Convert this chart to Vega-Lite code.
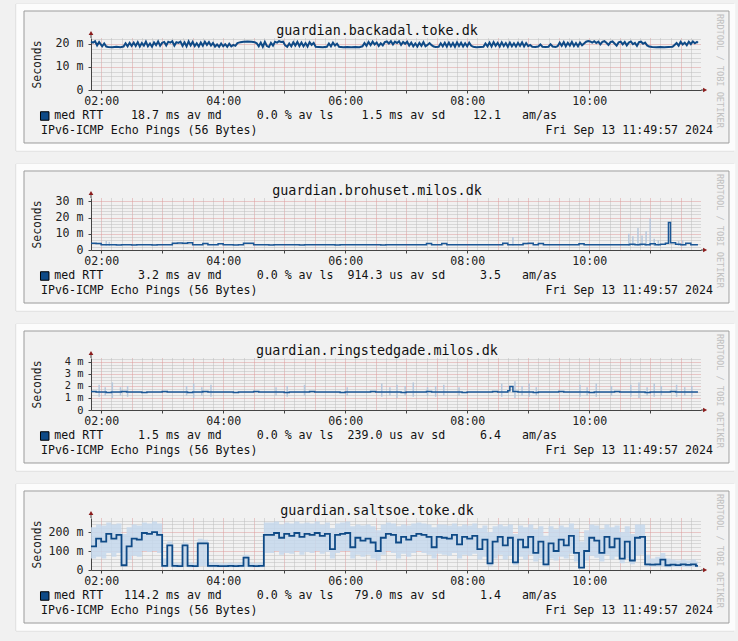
{
 "$schema": "https://vega.github.io/schema/vega-lite/v6.json",
 "background": "#f1f1f1",
 "padding": {"left": 15, "top": 3, "right": 5, "bottom": 11},
 "spacing": 108,
 "bounds": "flush",
 "config": {
  "font": "DejaVu Sans Mono",
  "view": {"stroke": null, "fill": "#f1f1f1"},
  "axis": {"labelFont": "DejaVu Sans Mono", "labelFontSize": 11.6, "labelColor": "#222", "titleFont": "DejaVu Sans Mono", "titleFontSize": 11.4, "titleFontWeight": "normal", "titleColor": "#222", "domainColor": "#444", "tickColor": "#444", "gridDash": [1, 1], "gridOpacity": 1, "labelFlush": false, "labelOverlap": false, "labelBound": false}
 },
 "datasets": {
  "i1": [{"title": "guardian.backadal.toke.dk", "stats": "med\u00a0RTT\u00a0\u00a0\u00a0\u00a018.7\u00a0ms\u00a0av\u00a0md\u00a0\u00a0\u00a0\u00a0\u00a00.0\u00a0%\u00a0av\u00a0ls\u00a0\u00a0\u00a0\u00a01.5\u00a0ms\u00a0av\u00a0sd\u00a0\u00a0\u00a0\u00a012.1\u00a0\u00a0\u00a0am/as", "probe": "IPv6-ICMP Echo Pings (56 Bytes)", "date": "Fri Sep 13 11:49:57 2024", "credit": "RRDTOOL / TOBI OETIKER"}],
  "i2": [{"title": "guardian.brohuset.milos.dk", "stats": "med\u00a0RTT\u00a0\u00a0\u00a0\u00a0\u00a03.2\u00a0ms\u00a0av\u00a0md\u00a0\u00a0\u00a0\u00a0\u00a00.0\u00a0%\u00a0av\u00a0ls\u00a0\u00a0914.3\u00a0us\u00a0av\u00a0sd\u00a0\u00a0\u00a0\u00a0\u00a03.5\u00a0\u00a0\u00a0am/as", "probe": "IPv6-ICMP Echo Pings (56 Bytes)", "date": "Fri Sep 13 11:49:57 2024", "credit": "RRDTOOL / TOBI OETIKER"}],
  "i3": [{"title": "guardian.ringstedgade.milos.dk", "stats": "med\u00a0RTT\u00a0\u00a0\u00a0\u00a0\u00a01.5\u00a0ms\u00a0av\u00a0md\u00a0\u00a0\u00a0\u00a0\u00a00.0\u00a0%\u00a0av\u00a0ls\u00a0\u00a0239.0\u00a0us\u00a0av\u00a0sd\u00a0\u00a0\u00a0\u00a0\u00a06.4\u00a0\u00a0\u00a0am/as", "probe": "IPv6-ICMP Echo Pings (56 Bytes)", "date": "Fri Sep 13 11:49:57 2024", "credit": "RRDTOOL / TOBI OETIKER"}],
  "i4": [{"title": "guardian.saltsoe.toke.dk", "stats": "med\u00a0RTT\u00a0\u00a0\u00a0114.2\u00a0ms\u00a0av\u00a0md\u00a0\u00a0\u00a0\u00a0\u00a00.0\u00a0%\u00a0av\u00a0ls\u00a0\u00a0\u00a079.0\u00a0ms\u00a0av\u00a0sd\u00a0\u00a0\u00a0\u00a0\u00a01.4\u00a0\u00a0\u00a0am/as", "probe": "IPv6-ICMP Echo Pings (56 Bytes)", "date": "Fri Sep 13 11:49:57 2024", "credit": "RRDTOOL / TOBI OETIKER"}],
  "p1": [{"m":110,"v":21.0},{"m":112,"v":20.6},{"m":114,"v":21.2},{"m":116,"v":19.4},{"m":118,"v":20.8},{"m":121,"v":19.0},{"m":123,"v":20.2},{"m":125,"v":18.9},{"m":127,"v":18.7},{"m":131,"v":18.6},{"m":135,"v":18.8},{"m":139,"v":18.6},{"m":142,"v":18.9},{"m":144,"v":20.3},{"m":146,"v":19.0},{"m":148,"v":20.5},{"m":150,"v":19.2},{"m":152,"v":20.6},{"m":154,"v":19.1},{"m":156,"v":20.8},{"m":158,"v":18.9},{"m":160,"v":20.4},{"m":162,"v":19.3},{"m":164,"v":21.0},{"m":166,"v":19.0},{"m":168,"v":20.2},{"m":170,"v":18.8},{"m":172,"v":20.7},{"m":174,"v":19.5},{"m":176,"v":21.1},{"m":178,"v":19.2},{"m":180,"v":20.5},{"m":182,"v":20.9},{"m":184,"v":19.4},{"m":186,"v":21.0},{"m":188,"v":20.6},{"m":190,"v":21.2},{"m":192,"v":19.3},{"m":194,"v":20.8},{"m":196,"v":20.5},{"m":198,"v":21.0},{"m":200,"v":19.2},{"m":202,"v":20.7},{"m":204,"v":19.0},{"m":206,"v":21.1},{"m":208,"v":19.4},{"m":210,"v":20.9},{"m":212,"v":19.1},{"m":214,"v":20.3},{"m":216,"v":18.9},{"m":218,"v":20.6},{"m":220,"v":19.2},{"m":222,"v":21.0},{"m":224,"v":19.6},{"m":226,"v":20.8},{"m":228,"v":19.3},{"m":230,"v":20.4},{"m":232,"v":18.9},{"m":234,"v":19.8},{"m":236,"v":18.8},{"m":238,"v":20.2},{"m":240,"v":19.0},{"m":242,"v":19.9},{"m":244,"v":18.8},{"m":246,"v":20.1},{"m":248,"v":19.0},{"m":250,"v":19.6},{"m":252,"v":19.2},{"m":254,"v":20.4},{"m":257,"v":20.8},{"m":260,"v":21.0},{"m":264,"v":21.1},{"m":268,"v":21.0},{"m":271,"v":20.8},{"m":273,"v":20.3},{"m":275,"v":19.0},{"m":277,"v":20.6},{"m":279,"v":18.8},{"m":281,"v":20.9},{"m":283,"v":19.1},{"m":285,"v":18.7},{"m":287,"v":20.5},{"m":289,"v":19.3},{"m":291,"v":21.0},{"m":293,"v":20.6},{"m":295,"v":21.2},{"m":297,"v":20.9},{"m":299,"v":21.0},{"m":301,"v":19.4},{"m":303,"v":18.8},{"m":305,"v":20.2},{"m":307,"v":19.0},{"m":309,"v":20.7},{"m":311,"v":19.3},{"m":313,"v":20.9},{"m":315,"v":19.1},{"m":317,"v":20.6},{"m":319,"v":19.0},{"m":321,"v":20.4},{"m":323,"v":18.9},{"m":325,"v":20.8},{"m":327,"v":19.6},{"m":329,"v":20.5},{"m":331,"v":18.8},{"m":334,"v":18.7},{"m":338,"v":18.6},{"m":342,"v":18.8},{"m":344,"v":20.2},{"m":346,"v":19.0},{"m":348,"v":20.6},{"m":350,"v":19.3},{"m":352,"v":20.1},{"m":354,"v":18.8},{"m":358,"v":18.6},{"m":362,"v":18.7},{"m":366,"v":18.6},{"m":370,"v":18.7},{"m":374,"v":18.6},{"m":377,"v":19.0},{"m":379,"v":20.4},{"m":381,"v":19.2},{"m":383,"v":20.9},{"m":385,"v":19.5},{"m":387,"v":21.0},{"m":389,"v":19.8},{"m":391,"v":20.6},{"m":393,"v":19.1},{"m":395,"v":20.3},{"m":397,"v":19.4},{"m":399,"v":20.8},{"m":401,"v":21.1},{"m":403,"v":20.2},{"m":405,"v":21.2},{"m":407,"v":19.8},{"m":409,"v":21.0},{"m":411,"v":20.4},{"m":413,"v":21.2},{"m":415,"v":19.6},{"m":417,"v":20.9},{"m":419,"v":20.1},{"m":421,"v":21.0},{"m":423,"v":19.3},{"m":425,"v":20.6},{"m":427,"v":19.0},{"m":429,"v":20.2},{"m":431,"v":18.9},{"m":433,"v":20.5},{"m":435,"v":19.2},{"m":437,"v":20.8},{"m":439,"v":19.0},{"m":441,"v":19.6},{"m":443,"v":20.4},{"m":445,"v":19.5},{"m":447,"v":18.9},{"m":449,"v":18.7},{"m":452,"v":18.8},{"m":454,"v":20.3},{"m":456,"v":19.0},{"m":458,"v":20.5},{"m":460,"v":18.9},{"m":462,"v":20.6},{"m":464,"v":19.0},{"m":466,"v":20.4},{"m":468,"v":18.8},{"m":470,"v":20.7},{"m":472,"v":19.1},{"m":474,"v":20.5},{"m":476,"v":18.9},{"m":478,"v":20.3},{"m":480,"v":19.0},{"m":482,"v":20.6},{"m":484,"v":19.2},{"m":486,"v":18.8},{"m":489,"v":18.6},{"m":493,"v":18.7},{"m":496,"v":18.8},{"m":498,"v":20.2},{"m":500,"v":19.0},{"m":502,"v":20.6},{"m":504,"v":18.9},{"m":506,"v":20.8},{"m":508,"v":19.2},{"m":510,"v":20.5},{"m":512,"v":18.9},{"m":514,"v":20.7},{"m":516,"v":19.1},{"m":518,"v":20.4},{"m":520,"v":18.8},{"m":522,"v":20.6},{"m":524,"v":19.0},{"m":526,"v":20.3},{"m":528,"v":18.9},{"m":530,"v":20.5},{"m":532,"v":19.2},{"m":534,"v":20.7},{"m":536,"v":18.9},{"m":538,"v":20.4},{"m":540,"v":19.1},{"m":542,"v":19.6},{"m":544,"v":18.8},{"m":547,"v":18.7},{"m":550,"v":18.9},{"m":552,"v":19.8},{"m":554,"v":18.8},{"m":557,"v":18.7},{"m":560,"v":18.8},{"m":562,"v":19.9},{"m":564,"v":18.9},{"m":567,"v":18.7},{"m":569,"v":19.0},{"m":571,"v":20.6},{"m":573,"v":19.2},{"m":575,"v":20.8},{"m":577,"v":19.0},{"m":579,"v":20.5},{"m":581,"v":19.3},{"m":583,"v":20.9},{"m":585,"v":19.1},{"m":587,"v":20.4},{"m":589,"v":19.0},{"m":591,"v":20.6},{"m":593,"v":19.4},{"m":595,"v":20.2},{"m":597,"v":21.0},{"m":599,"v":21.3},{"m":601,"v":21.1},{"m":603,"v":20.6},{"m":605,"v":21.2},{"m":607,"v":20.4},{"m":609,"v":21.0},{"m":611,"v":19.8},{"m":613,"v":20.9},{"m":615,"v":21.2},{"m":617,"v":20.5},{"m":619,"v":19.6},{"m":621,"v":20.8},{"m":623,"v":21.1},{"m":625,"v":20.2},{"m":627,"v":19.3},{"m":629,"v":20.7},{"m":631,"v":21.0},{"m":633,"v":19.8},{"m":635,"v":20.9},{"m":637,"v":19.4},{"m":639,"v":20.6},{"m":641,"v":21.1},{"m":643,"v":19.9},{"m":645,"v":20.5},{"m":647,"v":19.2},{"m":649,"v":20.8},{"m":651,"v":21.0},{"m":653,"v":20.1},{"m":655,"v":20.6},{"m":657,"v":19.4},{"m":659,"v":18.9},{"m":662,"v":18.7},{"m":666,"v":18.6},{"m":670,"v":18.7},{"m":674,"v":18.6},{"m":678,"v":18.7},{"m":682,"v":18.8},{"m":684,"v":19.6},{"m":686,"v":20.4},{"m":688,"v":19.3},{"m":690,"v":20.9},{"m":692,"v":19.8},{"m":694,"v":20.6},{"m":696,"v":19.5},{"m":698,"v":21.0},{"m":700,"v":19.9},{"m":702,"v":21.1},{"m":704,"v":20.3},{"m":706,"v":20.9},{"m":707,"v":20.5}],
  "p2": [{"m":110,"v":4.1},{"m":115,"v":4.0},{"m":120,"v":3.2},{"m":125,"v":3.3},{"m":130,"v":3.2},{"m":135,"v":3.1},{"m":140,"v":3.2},{"m":145,"v":3.2},{"m":150,"v":3.1},{"m":155,"v":3.2},{"m":160,"v":3.2},{"m":165,"v":3.2},{"m":170,"v":3.1},{"m":175,"v":3.2},{"m":180,"v":3.2},{"m":185,"v":3.3},{"m":190,"v":4.2},{"m":195,"v":4.3},{"m":200,"v":4.1},{"m":205,"v":4.4},{"m":210,"v":3.3},{"m":215,"v":3.2},{"m":220,"v":4.0},{"m":225,"v":3.2},{"m":230,"v":3.2},{"m":235,"v":3.9},{"m":240,"v":3.2},{"m":245,"v":3.2},{"m":250,"v":3.1},{"m":255,"v":3.2},{"m":260,"v":4.2},{"m":265,"v":4.1},{"m":270,"v":3.2},{"m":275,"v":3.2},{"m":280,"v":3.2},{"m":285,"v":3.1},{"m":290,"v":3.2},{"m":295,"v":3.2},{"m":300,"v":3.2},{"m":305,"v":3.2},{"m":310,"v":3.2},{"m":315,"v":3.1},{"m":320,"v":3.2},{"m":325,"v":3.2},{"m":330,"v":3.2},{"m":335,"v":3.2},{"m":340,"v":3.2},{"m":345,"v":3.2},{"m":350,"v":3.1},{"m":355,"v":3.2},{"m":360,"v":3.2},{"m":365,"v":3.2},{"m":370,"v":3.2},{"m":375,"v":3.2},{"m":380,"v":3.2},{"m":385,"v":3.2},{"m":390,"v":3.2},{"m":395,"v":3.1},{"m":400,"v":3.2},{"m":405,"v":3.2},{"m":410,"v":3.2},{"m":415,"v":3.2},{"m":420,"v":3.2},{"m":425,"v":3.2},{"m":430,"v":3.2},{"m":435,"v":3.2},{"m":440,"v":4.0},{"m":445,"v":3.2},{"m":450,"v":3.2},{"m":455,"v":4.0},{"m":460,"v":3.2},{"m":465,"v":3.2},{"m":470,"v":3.2},{"m":475,"v":3.2},{"m":480,"v":3.2},{"m":485,"v":3.2},{"m":490,"v":3.2},{"m":495,"v":3.2},{"m":500,"v":3.2},{"m":505,"v":3.2},{"m":510,"v":3.3},{"m":515,"v":4.2},{"m":520,"v":3.3},{"m":525,"v":3.2},{"m":530,"v":3.2},{"m":535,"v":4.0},{"m":540,"v":4.1},{"m":545,"v":3.2},{"m":550,"v":4.0},{"m":555,"v":3.2},{"m":560,"v":3.2},{"m":565,"v":3.2},{"m":570,"v":3.2},{"m":575,"v":3.2},{"m":580,"v":3.2},{"m":585,"v":3.2},{"m":590,"v":3.9},{"m":595,"v":3.2},{"m":600,"v":3.2},{"m":605,"v":3.2},{"m":610,"v":3.2},{"m":615,"v":3.2},{"m":620,"v":3.2},{"m":625,"v":3.2},{"m":630,"v":3.3},{"m":635,"v":3.2},{"m":640,"v":3.6},{"m":645,"v":3.2},{"m":650,"v":3.5},{"m":655,"v":3.2},{"m":660,"v":3.9},{"m":665,"v":3.2},{"m":670,"v":3.5},{"m":675,"v":4.2},{"m":678,"v":17.0},{"m":680,"v":4.5},{"m":685,"v":3.6},{"m":690,"v":3.2},{"m":695,"v":4.2},{"m":700,"v":3.3},{"m":705,"v":3.2},{"m":707,"v":3.2}],
  "s2": [{"m":125,"lo":2.6,"hi":5.5},{"m":128,"lo":2.6,"hi":5.0},{"m":525,"lo":2.8,"hi":8.0},{"m":639,"lo":2.5,"hi":10.0},{"m":643,"lo":2.5,"hi":8.5},{"m":648,"lo":2.5,"hi":13.5},{"m":652,"lo":2.5,"hi":9.0},{"m":656,"lo":2.5,"hi":11.5},{"m":660,"lo":2.5,"hi":19.5},{"m":664,"lo":2.5,"hi":7.0},{"m":668,"lo":2.5,"hi":6.0},{"m":688,"lo":2.5,"hi":5.5},{"m":692,"lo":2.5,"hi":6.0}],
  "p3": [{"m":110,"v":1.55},{"m":115,"v":1.5},{"m":120,"v":1.5},{"m":125,"v":1.45},{"m":130,"v":1.5},{"m":135,"v":1.5},{"m":140,"v":1.55},{"m":145,"v":1.5},{"m":150,"v":1.5},{"m":155,"v":1.5},{"m":160,"v":1.45},{"m":165,"v":1.5},{"m":170,"v":1.5},{"m":175,"v":1.5},{"m":180,"v":1.55},{"m":185,"v":1.5},{"m":190,"v":1.5},{"m":195,"v":1.5},{"m":200,"v":1.5},{"m":205,"v":1.45},{"m":210,"v":1.5},{"m":215,"v":1.5},{"m":220,"v":1.55},{"m":225,"v":1.5},{"m":230,"v":1.5},{"m":235,"v":1.5},{"m":240,"v":1.5},{"m":245,"v":1.5},{"m":250,"v":1.45},{"m":255,"v":1.5},{"m":260,"v":1.5},{"m":265,"v":1.5},{"m":270,"v":1.55},{"m":275,"v":1.5},{"m":280,"v":1.5},{"m":285,"v":1.5},{"m":290,"v":1.5},{"m":295,"v":1.5},{"m":300,"v":1.45},{"m":305,"v":1.5},{"m":310,"v":1.5},{"m":315,"v":1.5},{"m":320,"v":1.5},{"m":325,"v":1.55},{"m":330,"v":1.5},{"m":335,"v":1.5},{"m":340,"v":1.5},{"m":345,"v":1.5},{"m":350,"v":1.5},{"m":355,"v":1.45},{"m":360,"v":1.5},{"m":365,"v":1.5},{"m":370,"v":1.5},{"m":375,"v":1.5},{"m":380,"v":1.5},{"m":385,"v":1.55},{"m":390,"v":1.5},{"m":395,"v":1.5},{"m":400,"v":1.5},{"m":405,"v":1.5},{"m":410,"v":1.5},{"m":415,"v":1.45},{"m":420,"v":1.5},{"m":425,"v":1.5},{"m":430,"v":1.5},{"m":435,"v":1.5},{"m":440,"v":1.55},{"m":445,"v":1.5},{"m":450,"v":1.5},{"m":455,"v":1.5},{"m":460,"v":1.5},{"m":465,"v":1.5},{"m":470,"v":1.5},{"m":475,"v":1.45},{"m":480,"v":1.5},{"m":485,"v":1.5},{"m":490,"v":1.5},{"m":495,"v":1.5},{"m":500,"v":1.5},{"m":505,"v":1.55},{"m":510,"v":1.5},{"m":515,"v":1.5},{"m":520,"v":1.6},{"m":522,"v":1.95},{"m":525,"v":1.55},{"m":530,"v":1.5},{"m":535,"v":1.5},{"m":540,"v":1.5},{"m":545,"v":1.45},{"m":550,"v":1.5},{"m":555,"v":1.5},{"m":560,"v":1.5},{"m":565,"v":1.5},{"m":570,"v":1.55},{"m":575,"v":1.5},{"m":580,"v":1.5},{"m":585,"v":1.5},{"m":590,"v":1.5},{"m":595,"v":1.5},{"m":600,"v":1.45},{"m":605,"v":1.5},{"m":610,"v":1.5},{"m":615,"v":1.5},{"m":620,"v":1.5},{"m":625,"v":1.55},{"m":630,"v":1.5},{"m":635,"v":1.5},{"m":640,"v":1.5},{"m":645,"v":1.5},{"m":650,"v":1.5},{"m":655,"v":1.45},{"m":660,"v":1.5},{"m":665,"v":1.5},{"m":670,"v":1.5},{"m":675,"v":1.5},{"m":680,"v":1.55},{"m":685,"v":1.5},{"m":690,"v":1.5},{"m":695,"v":1.5},{"m":700,"v":1.5},{"m":705,"v":1.5},{"m":707,"v":1.5}],
  "s3": [{"m":118,"lo":1.1,"hi":2.1},{"m":124,"lo":1.2,"hi":1.9},{"m":131,"lo":1.0,"hi":2.3},{"m":139,"lo":1.2,"hi":1.9},{"m":146,"lo":1.1,"hi":2.0},{"m":204,"lo":1.2,"hi":2.0},{"m":211,"lo":1.0,"hi":2.2},{"m":219,"lo":1.2,"hi":1.9},{"m":228,"lo":1.1,"hi":2.1},{"m":292,"lo":1.2,"hi":1.9},{"m":303,"lo":1.1,"hi":2.0},{"m":320,"lo":1.2,"hi":2.1},{"m":362,"lo":1.2,"hi":1.9},{"m":396,"lo":1.1,"hi":2.2},{"m":404,"lo":1.2,"hi":1.9},{"m":411,"lo":1.0,"hi":2.1},{"m":419,"lo":1.2,"hi":2.0},{"m":427,"lo":1.1,"hi":2.3},{"m":441,"lo":1.2,"hi":1.9},{"m":449,"lo":1.1,"hi":2.0},{"m":457,"lo":1.2,"hi":2.1},{"m":472,"lo":1.2,"hi":1.9},{"m":514,"lo":1.1,"hi":2.2},{"m":527,"lo":1.0,"hi":2.4},{"m":534,"lo":1.2,"hi":2.0},{"m":541,"lo":1.1,"hi":2.2},{"m":548,"lo":1.2,"hi":1.9},{"m":591,"lo":1.1,"hi":2.1},{"m":598,"lo":1.2,"hi":1.9},{"m":607,"lo":1.1,"hi":2.2},{"m":622,"lo":1.2,"hi":2.0},{"m":641,"lo":1.1,"hi":2.1},{"m":649,"lo":1.0,"hi":2.3},{"m":657,"lo":1.2,"hi":1.9},{"m":664,"lo":1.1,"hi":2.2},{"m":671,"lo":1.2,"hi":2.0},{"m":686,"lo":1.1,"hi":2.1},{"m":694,"lo":1.2,"hi":1.9},{"m":701,"lo":1.1,"hi":2.0}],
  "p4": [{"m":110,"v":125,"lo":60,"hi":225},{"m":115,"v":165,"lo":70,"hi":240},{"m":120,"v":150,"lo":60,"hi":235},{"m":125,"v":190,"lo":90,"hi":250},{"m":130,"v":165,"lo":70,"hi":240},{"m":135,"v":185,"lo":90,"hi":245},{"m":140,"v":25,"lo":20,"hi":190},{"m":145,"v":125,"lo":55,"hi":225},{"m":150,"v":165,"lo":75,"hi":240},{"m":155,"v":160,"lo":70,"hi":235},{"m":160,"v":195,"lo":100,"hi":250},{"m":165,"v":190,"lo":95,"hi":245},{"m":170,"v":200,"lo":100,"hi":255},{"m":175,"v":185,"lo":90,"hi":245},{"m":180,"v":22,"lo":15,"hi":60},{"m":185,"v":130,"lo":18,"hi":150},{"m":190,"v":22,"lo":15,"hi":40},{"m":195,"v":20,"lo":14,"hi":35},{"m":200,"v":130,"lo":18,"hi":145},{"m":205,"v":22,"lo":15,"hi":40},{"m":210,"v":20,"lo":14,"hi":35},{"m":215,"v":140,"lo":20,"hi":165},{"m":220,"v":140,"lo":20,"hi":160},{"m":225,"v":22,"lo":15,"hi":40},{"m":230,"v":22,"lo":15,"hi":40},{"m":235,"v":20,"lo":14,"hi":35},{"m":240,"v":20,"lo":14,"hi":35},{"m":245,"v":22,"lo":15,"hi":38},{"m":250,"v":20,"lo":14,"hi":35},{"m":255,"v":22,"lo":15,"hi":38},{"m":260,"v":65,"lo":16,"hi":80},{"m":265,"v":22,"lo":15,"hi":38},{"m":270,"v":20,"lo":14,"hi":35},{"m":275,"v":22,"lo":15,"hi":40},{"m":280,"v":185,"lo":90,"hi":250},{"m":285,"v":185,"lo":90,"hi":250},{"m":290,"v":195,"lo":100,"hi":255},{"m":295,"v":170,"lo":80,"hi":240},{"m":300,"v":190,"lo":90,"hi":250},{"m":305,"v":180,"lo":85,"hi":245},{"m":310,"v":195,"lo":100,"hi":255},{"m":315,"v":175,"lo":80,"hi":245},{"m":320,"v":190,"lo":95,"hi":250},{"m":325,"v":185,"lo":90,"hi":245},{"m":330,"v":195,"lo":100,"hi":255},{"m":335,"v":180,"lo":85,"hi":240},{"m":340,"v":190,"lo":95,"hi":250},{"m":345,"v":110,"lo":60,"hi":220},{"m":350,"v":185,"lo":90,"hi":245},{"m":355,"v":190,"lo":100,"hi":250},{"m":360,"v":195,"lo":100,"hi":255},{"m":365,"v":120,"lo":60,"hi":230},{"m":370,"v":170,"lo":80,"hi":240},{"m":375,"v":155,"lo":70,"hi":235},{"m":380,"v":165,"lo":80,"hi":240},{"m":385,"v":145,"lo":60,"hi":230},{"m":390,"v":100,"lo":50,"hi":210},{"m":395,"v":170,"lo":80,"hi":240},{"m":400,"v":190,"lo":100,"hi":250},{"m":405,"v":185,"lo":90,"hi":245},{"m":410,"v":145,"lo":60,"hi":230},{"m":415,"v":175,"lo":85,"hi":240},{"m":420,"v":160,"lo":70,"hi":235},{"m":425,"v":180,"lo":90,"hi":245},{"m":430,"v":190,"lo":100,"hi":250},{"m":435,"v":185,"lo":90,"hi":245},{"m":440,"v":175,"lo":80,"hi":240},{"m":445,"v":120,"lo":60,"hi":225},{"m":450,"v":175,"lo":85,"hi":240},{"m":455,"v":170,"lo":80,"hi":240},{"m":460,"v":165,"lo":75,"hi":235},{"m":465,"v":185,"lo":90,"hi":245},{"m":470,"v":135,"lo":60,"hi":230},{"m":475,"v":175,"lo":80,"hi":240},{"m":480,"v":165,"lo":75,"hi":235},{"m":485,"v":180,"lo":85,"hi":245},{"m":490,"v":110,"lo":55,"hi":220},{"m":495,"v":160,"lo":70,"hi":235},{"m":500,"v":35,"lo":20,"hi":200},{"m":505,"v":150,"lo":60,"hi":230},{"m":510,"v":175,"lo":80,"hi":240},{"m":515,"v":130,"lo":55,"hi":230},{"m":520,"v":170,"lo":75,"hi":240},{"m":525,"v":40,"lo":25,"hi":190},{"m":530,"v":160,"lo":70,"hi":235},{"m":535,"v":120,"lo":55,"hi":225},{"m":540,"v":175,"lo":80,"hi":240},{"m":545,"v":90,"lo":45,"hi":215},{"m":550,"v":150,"lo":60,"hi":230},{"m":555,"v":30,"lo":20,"hi":180},{"m":560,"v":140,"lo":60,"hi":230},{"m":565,"v":100,"lo":50,"hi":215},{"m":570,"v":160,"lo":70,"hi":235},{"m":575,"v":130,"lo":60,"hi":225},{"m":580,"v":180,"lo":85,"hi":245},{"m":585,"v":90,"lo":45,"hi":215},{"m":590,"v":12,"lo":8,"hi":150},{"m":595,"v":100,"lo":50,"hi":210},{"m":600,"v":170,"lo":75,"hi":240},{"m":605,"v":155,"lo":65,"hi":235},{"m":610,"v":90,"lo":45,"hi":215},{"m":615,"v":175,"lo":80,"hi":240},{"m":620,"v":120,"lo":55,"hi":225},{"m":625,"v":165,"lo":70,"hi":235},{"m":630,"v":60,"lo":35,"hi":200},{"m":635,"v":150,"lo":60,"hi":230},{"m":640,"v":50,"lo":30,"hi":190},{"m":645,"v":170,"lo":75,"hi":240},{"m":650,"v":175,"lo":80,"hi":240},{"m":655,"v":30,"lo":18,"hi":80},{"m":660,"v":28,"lo":18,"hi":60},{"m":665,"v":30,"lo":18,"hi":70},{"m":670,"v":55,"lo":20,"hi":90},{"m":675,"v":25,"lo":15,"hi":60},{"m":680,"v":28,"lo":16,"hi":55},{"m":685,"v":26,"lo":15,"hi":50},{"m":690,"v":30,"lo":16,"hi":55},{"m":695,"v":27,"lo":15,"hi":50},{"m":700,"v":30,"lo":16,"hi":55},{"m":705,"v":22,"lo":14,"hi":45},{"m":707,"v":22,"lo":14,"hi":45}]
 },
 "vconcat": [
  {
   "width": 610, "height": 52,
   "data": {"name": "i1"},
   "layer": [
    {"mark": {"type": "rect", "filled": false, "color": "#d8d8d8", "strokeWidth": 1},
     "encoding": {"x": {"datum": 36.2, "type": "quantitative", "scale": {"domain": [110, 710], "nice": false, "zero": false}}, "x2": {"datum": 742.5}, "y": {"datum": 37.38, "type": "quantitative", "scale": {"domain": [0, 22.6], "nice": false, "zero": false}}, "y2": {"datum": -26.51}}},
    {"mark": {"type": "rect", "filled": false, "color": "#fcfcfc", "strokeWidth": 7.5},
     "encoding": {"x": {"datum": 40.16, "type": "quantitative"}, "x2": {"datum": 740.0}, "y": {"datum": 35.86, "type": "quantitative"}, "y2": {"datum": -24.77}}},
    {"mark": {"type": "rect", "filled": false, "color": "#9c9c9c", "strokeWidth": 1},
     "encoding": {"x": {"datum": 44.1, "type": "quantitative"}, "x2": {"datum": 737.5}, "y": {"datum": 34.33, "type": "quantitative"}, "y2": {"datum": -23.03}}},
    {"mark": {"type": "text", "fontSize": 13.4, "align": "center", "baseline": "middle", "color": "#111"},
     "encoding": {"x": {"datum": 391.3, "type": "quantitative"}, "y": {"datum": 25.64, "type": "quantitative"}, "text": {"field": "title"}}},
    {"mark": {"type": "text", "fontSize": 11.6, "align": "left", "baseline": "middle", "color": "#111"},
     "encoding": {"x": {"datum": 73.9, "type": "quantitative"}, "y": {"datum": -11.3, "type": "quantitative"}, "text": {"field": "stats"}}},
    {"mark": {"type": "text", "fontSize": 11.6, "align": "left", "baseline": "middle", "color": "#111"},
     "encoding": {"x": {"datum": 60.8, "type": "quantitative"}, "y": {"datum": -17.82, "type": "quantitative"}, "text": {"field": "probe"}}},
    {"mark": {"type": "text", "fontSize": 11.6, "align": "right", "baseline": "middle", "color": "#111"},
     "encoding": {"x": {"datum": 721.8, "type": "quantitative"}, "y": {"datum": -17.82, "type": "quantitative"}, "text": {"field": "date"}}},
    {"mark": {"type": "text", "fontSize": 8.6, "align": "center", "baseline": "middle", "angle": 90, "color": "#c0c0c0"},
     "encoding": {"x": {"datum": 728.7, "type": "quantitative"}, "y": {"datum": 8.26, "type": "quantitative"}, "text": {"field": "credit"}}},
    {"mark": {"type": "point", "shape": "square", "size": 72, "filled": true, "fill": "#0f4a86", "stroke": "#000", "strokeWidth": 1, "opacity": 1},
     "encoding": {"x": {"datum": 64.5, "type": "quantitative"}, "y": {"datum": -11.3, "type": "quantitative"}}},
    {"data": {"name": "p1"}, "mark": {"type": "line", "interpolate": "linear", "color": "#0f4a86", "strokeWidth": 2},
     "encoding": {
      "x": {"field": "m", "type": "quantitative", "axis": {"tickCount": 200, "values": [120,130,140,150,160,170,180,190,200,210,220,230,240,250,260,270,280,290,300,310,320,330,340,350,360,370,380,390,400,410,420,430,440,450,460,470,480,490,500,510,520,530,540,550,560,570,580,590,600,610,620,630,640,650,660,670,680,690,700], "labelExpr": "datum.value % 120 === 0 ? (datum.value < 600 ? '0' : '') + (datum.value / 60) + ':00' : ''", "labelOverlap": false, "title": null, "grid": true, "gridColor": {"condition": {"test": "datum.value % 30 === 0", "value": "#dd9a9a"}, "value": "#bdbdbd"}, "tickOpacity": {"condition": {"test": "datum.value % 60 === 0", "value": 1}, "value": 0}, "tickSize": 3, "labelPadding": 2}},
      "y": {"field": "v", "type": "quantitative", "axis": {"tickCount": 200, "values": [0,2,4,6,8,10,12,14,16,18,20,22], "labelExpr": "datum.value === 0 ? '0' : (datum.value % 10 === 0 ? datum.value + ' m' : '')", "labelOverlap": false, "title": "Seconds", "titleX": -54, "titleY": 26, "titleAngle": -90, "titleAlign": "center", "titleBaseline": "middle", "grid": true, "gridColor": {"condition": {"test": "datum.value % 10 === 0", "value": "#dd9a9a"}, "value": "#bdbdbd"}, "tickOpacity": {"condition": {"test": "datum.value % 10 === 0", "value": 1}, "value": 0}, "tickSize": 3, "labelPadding": 5}}
     }},
    {"mark": {"type": "rule", "color": "#444", "strokeWidth": 1},
     "encoding": {"x": {"datum": 110, "type": "quantitative"}, "y": {"datum": 22.6, "type": "quantitative"}, "y2": {"datum": 24.77}}},
    {"mark": {"type": "rule", "color": "#444", "strokeWidth": 1},
     "encoding": {"x": {"datum": 710, "type": "quantitative"}, "x2": {"datum": 713}, "y": {"datum": 0, "type": "quantitative"}}},
    {"mark": {"type": "point", "shape": "triangle-up", "size": 22, "filled": true, "color": "#8b1a1a", "opacity": 1},
     "encoding": {"x": {"datum": 110, "type": "quantitative"}, "y": {"datum": 24.77, "type": "quantitative"}}},
    {"mark": {"type": "point", "shape": "triangle-right", "size": 22, "filled": true, "color": "#8b1a1a", "opacity": 1},
     "encoding": {"x": {"datum": 714, "type": "quantitative"}, "y": {"datum": 0, "type": "quantitative"}}}
   ]
  },
  {
   "width": 610, "height": 52,
   "data": {"name": "i2"},
   "layer": [
    {"mark": {"type": "rect", "filled": false, "color": "#d8d8d8", "strokeWidth": 1},
     "encoding": {"x": {"datum": 36.2, "type": "quantitative", "scale": {"domain": [110, 710], "nice": false, "zero": false}}, "x2": {"datum": 742.5}, "y": {"datum": 52.92, "type": "quantitative", "scale": {"domain": [0, 32], "nice": false, "zero": false}}, "y2": {"datum": -37.54}}},
    {"mark": {"type": "rect", "filled": false, "color": "#fcfcfc", "strokeWidth": 7.5},
     "encoding": {"x": {"datum": 40.16, "type": "quantitative"}, "x2": {"datum": 740.0}, "y": {"datum": 50.77, "type": "quantitative"}, "y2": {"datum": -35.08}}},
    {"mark": {"type": "rect", "filled": false, "color": "#9c9c9c", "strokeWidth": 1},
     "encoding": {"x": {"datum": 44.1, "type": "quantitative"}, "x2": {"datum": 737.5}, "y": {"datum": 48.62, "type": "quantitative"}, "y2": {"datum": -32.62}}},
    {"mark": {"type": "text", "fontSize": 13.4, "align": "center", "baseline": "middle", "color": "#111"},
     "encoding": {"x": {"datum": 391.3, "type": "quantitative"}, "y": {"datum": 36.31, "type": "quantitative"}, "text": {"field": "title"}}},
    {"mark": {"type": "text", "fontSize": 11.6, "align": "left", "baseline": "middle", "color": "#111"},
     "encoding": {"x": {"datum": 73.9, "type": "quantitative"}, "y": {"datum": -16.0, "type": "quantitative"}, "text": {"field": "stats"}}},
    {"mark": {"type": "text", "fontSize": 11.6, "align": "left", "baseline": "middle", "color": "#111"},
     "encoding": {"x": {"datum": 60.8, "type": "quantitative"}, "y": {"datum": -25.23, "type": "quantitative"}, "text": {"field": "probe"}}},
    {"mark": {"type": "text", "fontSize": 11.6, "align": "right", "baseline": "middle", "color": "#111"},
     "encoding": {"x": {"datum": 721.8, "type": "quantitative"}, "y": {"datum": -25.23, "type": "quantitative"}, "text": {"field": "date"}}},
    {"mark": {"type": "text", "fontSize": 8.6, "align": "center", "baseline": "middle", "angle": 90, "color": "#c0c0c0"},
     "encoding": {"x": {"datum": 728.7, "type": "quantitative"}, "y": {"datum": 11.69, "type": "quantitative"}, "text": {"field": "credit"}}},
    {"mark": {"type": "point", "shape": "square", "size": 72, "filled": true, "fill": "#0f4a86", "stroke": "#000", "strokeWidth": 1, "opacity": 1},
     "encoding": {"x": {"datum": 64.5, "type": "quantitative"}, "y": {"datum": -16.0, "type": "quantitative"}}},
    {"data": {"name": "s2"}, "mark": {"type": "rule", "color": "#b7c8dc", "strokeWidth": 1.5},
     "encoding": {"x": {"field": "m", "type": "quantitative"}, "y": {"field": "lo", "type": "quantitative"}, "y2": {"field": "hi"}}},
    {"data": {"name": "p2"}, "mark": {"type": "line", "interpolate": "step-after", "color": "#1b5796", "strokeWidth": 1.5},
     "encoding": {
      "x": {"field": "m", "type": "quantitative", "axis": {"tickCount": 200, "values": [120,130,140,150,160,170,180,190,200,210,220,230,240,250,260,270,280,290,300,310,320,330,340,350,360,370,380,390,400,410,420,430,440,450,460,470,480,490,500,510,520,530,540,550,560,570,580,590,600,610,620,630,640,650,660,670,680,690,700], "labelExpr": "datum.value % 120 === 0 ? (datum.value < 600 ? '0' : '') + (datum.value / 60) + ':00' : ''", "labelOverlap": false, "title": null, "grid": true, "gridColor": {"condition": {"test": "datum.value % 30 === 0", "value": "#dd9a9a"}, "value": "#bdbdbd"}, "tickOpacity": {"condition": {"test": "datum.value % 60 === 0", "value": 1}, "value": 0}, "tickSize": 3, "labelPadding": 2}},
      "y": {"field": "v", "type": "quantitative", "axis": {"tickCount": 200, "values": [0,2,4,6,8,10,12,14,16,18,20,22,24,26,28,30], "labelExpr": "datum.value === 0 ? '0' : (datum.value % 10 === 0 ? datum.value + ' m' : '')", "labelOverlap": false, "title": "Seconds", "titleX": -54, "titleY": 26, "titleAngle": -90, "titleAlign": "center", "titleBaseline": "middle", "grid": true, "gridColor": {"condition": {"test": "datum.value % 10 === 0", "value": "#dd9a9a"}, "value": "#bdbdbd"}, "tickOpacity": {"condition": {"test": "datum.value % 10 === 0", "value": 1}, "value": 0}, "tickSize": 3, "labelPadding": 5}}
     }},
    {"mark": {"type": "rule", "color": "#444", "strokeWidth": 1},
     "encoding": {"x": {"datum": 110, "type": "quantitative"}, "y": {"datum": 32, "type": "quantitative"}, "y2": {"datum": 35.07}}},
    {"mark": {"type": "rule", "color": "#444", "strokeWidth": 1},
     "encoding": {"x": {"datum": 710, "type": "quantitative"}, "x2": {"datum": 713}, "y": {"datum": 0, "type": "quantitative"}}},
    {"mark": {"type": "point", "shape": "triangle-up", "size": 22, "filled": true, "color": "#8b1a1a", "opacity": 1},
     "encoding": {"x": {"datum": 110, "type": "quantitative"}, "y": {"datum": 35.07, "type": "quantitative"}}},
    {"mark": {"type": "point", "shape": "triangle-right", "size": 22, "filled": true, "color": "#8b1a1a", "opacity": 1},
     "encoding": {"x": {"datum": 714, "type": "quantitative"}, "y": {"datum": 0, "type": "quantitative"}}}
   ]
  },
  {
   "width": 610, "height": 52,
   "data": {"name": "i3"},
   "layer": [
    {"mark": {"type": "rect", "filled": false, "color": "#d8d8d8", "strokeWidth": 1},
     "encoding": {"x": {"datum": 36.2, "type": "quantitative", "scale": {"domain": [110, 710], "nice": false, "zero": false}}, "x2": {"datum": 742.5}, "y": {"datum": 7.161, "type": "quantitative", "scale": {"domain": [0, 4.33], "nice": false, "zero": false}}, "y2": {"datum": -5.08}}},
    {"mark": {"type": "rect", "filled": false, "color": "#fcfcfc", "strokeWidth": 7.5},
     "encoding": {"x": {"datum": 40.16, "type": "quantitative"}, "x2": {"datum": 740.0}, "y": {"datum": 6.87, "type": "quantitative"}, "y2": {"datum": -4.746}}},
    {"mark": {"type": "rect", "filled": false, "color": "#9c9c9c", "strokeWidth": 1},
     "encoding": {"x": {"datum": 44.1, "type": "quantitative"}, "x2": {"datum": 737.5}, "y": {"datum": 6.578, "type": "quantitative"}, "y2": {"datum": -4.413}}},
    {"mark": {"type": "text", "fontSize": 13.4, "align": "center", "baseline": "middle", "color": "#111"},
     "encoding": {"x": {"datum": 391.3, "type": "quantitative"}, "y": {"datum": 4.913, "type": "quantitative"}, "text": {"field": "title"}}},
    {"mark": {"type": "text", "fontSize": 11.6, "align": "left", "baseline": "middle", "color": "#111"},
     "encoding": {"x": {"datum": 73.9, "type": "quantitative"}, "y": {"datum": -2.165, "type": "quantitative"}, "text": {"field": "stats"}}},
    {"mark": {"type": "text", "fontSize": 11.6, "align": "left", "baseline": "middle", "color": "#111"},
     "encoding": {"x": {"datum": 60.8, "type": "quantitative"}, "y": {"datum": -3.414, "type": "quantitative"}, "text": {"field": "probe"}}},
    {"mark": {"type": "text", "fontSize": 11.6, "align": "right", "baseline": "middle", "color": "#111"},
     "encoding": {"x": {"datum": 721.8, "type": "quantitative"}, "y": {"datum": -3.414, "type": "quantitative"}, "text": {"field": "date"}}},
    {"mark": {"type": "text", "fontSize": 8.6, "align": "center", "baseline": "middle", "angle": 90, "color": "#c0c0c0"},
     "encoding": {"x": {"datum": 728.7, "type": "quantitative"}, "y": {"datum": 1.582, "type": "quantitative"}, "text": {"field": "credit"}}},
    {"mark": {"type": "point", "shape": "square", "size": 72, "filled": true, "fill": "#0f4a86", "stroke": "#000", "strokeWidth": 1, "opacity": 1},
     "encoding": {"x": {"datum": 64.5, "type": "quantitative"}, "y": {"datum": -2.165, "type": "quantitative"}}},
    {"data": {"name": "s3"}, "mark": {"type": "rule", "color": "#b7c8dc", "strokeWidth": 1.5},
     "encoding": {"x": {"field": "m", "type": "quantitative"}, "y": {"field": "lo", "type": "quantitative"}, "y2": {"field": "hi"}}},
    {"data": {"name": "p3"}, "mark": {"type": "line", "interpolate": "step-after", "color": "#1b5796", "strokeWidth": 1.5},
     "encoding": {
      "x": {"field": "m", "type": "quantitative", "axis": {"tickCount": 200, "values": [120,130,140,150,160,170,180,190,200,210,220,230,240,250,260,270,280,290,300,310,320,330,340,350,360,370,380,390,400,410,420,430,440,450,460,470,480,490,500,510,520,530,540,550,560,570,580,590,600,610,620,630,640,650,660,670,680,690,700], "labelExpr": "datum.value % 120 === 0 ? (datum.value < 600 ? '0' : '') + (datum.value / 60) + ':00' : ''", "labelOverlap": false, "title": null, "grid": true, "gridColor": {"condition": {"test": "datum.value % 30 === 0", "value": "#dd9a9a"}, "value": "#bdbdbd"}, "tickOpacity": {"condition": {"test": "datum.value % 60 === 0", "value": 1}, "value": 0}, "tickSize": 3, "labelPadding": 2}},
      "y": {"field": "v", "type": "quantitative", "axis": {"tickCount": 200, "values": [0,0.25,0.5,0.75,1,1.25,1.5,1.75,2,2.25,2.5,2.75,3,3.25,3.5,3.75,4,4.25], "labelExpr": "datum.value === 0 ? '0' : (datum.value % 1 === 0 ? datum.value + ' m' : '')", "labelOverlap": false, "labelFontSize": 10.4, "title": "Seconds", "titleX": -54, "titleY": 26, "titleAngle": -90, "titleAlign": "center", "titleBaseline": "middle", "grid": true, "gridColor": {"condition": {"test": "datum.value % 1 === 0", "value": "#dd9a9a"}, "value": "#bdbdbd"}, "tickOpacity": {"condition": {"test": "datum.value % 1 === 0", "value": 1}, "value": 0}, "tickSize": 3, "labelPadding": 5}}
     }},
    {"mark": {"type": "rule", "color": "#444", "strokeWidth": 1},
     "encoding": {"x": {"datum": 110, "type": "quantitative"}, "y": {"datum": 4.33, "type": "quantitative"}, "y2": {"datum": 4.746}}},
    {"mark": {"type": "rule", "color": "#444", "strokeWidth": 1},
     "encoding": {"x": {"datum": 710, "type": "quantitative"}, "x2": {"datum": 713}, "y": {"datum": 0, "type": "quantitative"}}},
    {"mark": {"type": "point", "shape": "triangle-up", "size": 22, "filled": true, "color": "#8b1a1a", "opacity": 1},
     "encoding": {"x": {"datum": 110, "type": "quantitative"}, "y": {"datum": 4.746, "type": "quantitative"}}},
    {"mark": {"type": "point", "shape": "triangle-right", "size": 22, "filled": true, "color": "#8b1a1a", "opacity": 1},
     "encoding": {"x": {"datum": 714, "type": "quantitative"}, "y": {"datum": 0, "type": "quantitative"}}}
   ]
  },
  {
   "width": 610, "height": 52,
   "data": {"name": "i4"},
   "layer": [
    {"mark": {"type": "rect", "filled": false, "color": "#d8d8d8", "strokeWidth": 1},
     "encoding": {"x": {"datum": 36.2, "type": "quantitative", "scale": {"domain": [110, 710], "nice": false, "zero": false}}, "x2": {"datum": 742.5}, "y": {"datum": 453.1, "type": "quantitative", "scale": {"domain": [0, 274], "nice": false, "zero": false}}, "y2": {"datum": -321.4}}},
    {"mark": {"type": "rect", "filled": false, "color": "#fcfcfc", "strokeWidth": 7.5},
     "encoding": {"x": {"datum": 40.16, "type": "quantitative"}, "x2": {"datum": 740.0}, "y": {"datum": 434.7, "type": "quantitative"}, "y2": {"datum": -300.3}}},
    {"mark": {"type": "rect", "filled": false, "color": "#9c9c9c", "strokeWidth": 1},
     "encoding": {"x": {"datum": 44.1, "type": "quantitative"}, "x2": {"datum": 737.5}, "y": {"datum": 416.3, "type": "quantitative"}, "y2": {"datum": -279.3}}},
    {"mark": {"type": "text", "fontSize": 13.4, "align": "center", "baseline": "middle", "color": "#111"},
     "encoding": {"x": {"datum": 391.3, "type": "quantitative"}, "y": {"datum": 310.9, "type": "quantitative"}, "text": {"field": "title"}}},
    {"mark": {"type": "text", "fontSize": 11.6, "align": "left", "baseline": "middle", "color": "#111"},
     "encoding": {"x": {"datum": 73.9, "type": "quantitative"}, "y": {"datum": -137, "type": "quantitative"}, "text": {"field": "stats"}}},
    {"mark": {"type": "text", "fontSize": 11.6, "align": "left", "baseline": "middle", "color": "#111"},
     "encoding": {"x": {"datum": 60.8, "type": "quantitative"}, "y": {"datum": -216.0, "type": "quantitative"}, "text": {"field": "probe"}}},
    {"mark": {"type": "text", "fontSize": 11.6, "align": "right", "baseline": "middle", "color": "#111"},
     "encoding": {"x": {"datum": 721.8, "type": "quantitative"}, "y": {"datum": -216.0, "type": "quantitative"}, "text": {"field": "date"}}},
    {"mark": {"type": "text", "fontSize": 8.6, "align": "center", "baseline": "middle", "angle": 90, "color": "#c0c0c0"},
     "encoding": {"x": {"datum": 728.7, "type": "quantitative"}, "y": {"datum": 100.1, "type": "quantitative"}, "text": {"field": "credit"}}},
    {"mark": {"type": "point", "shape": "square", "size": 72, "filled": true, "fill": "#0f4a86", "stroke": "#000", "strokeWidth": 1, "opacity": 1},
     "encoding": {"x": {"datum": 64.5, "type": "quantitative"}, "y": {"datum": -137, "type": "quantitative"}}},
    {"data": {"name": "p4"}, "mark": {"type": "area", "interpolate": "step-after", "color": "#c6d8ec", "opacity": 0.85},
     "encoding": {"x": {"field": "m", "type": "quantitative"}, "y": {"field": "lo", "type": "quantitative"}, "y2": {"field": "hi"}}},
    {"data": {"name": "p4"}, "mark": {"type": "line", "interpolate": "step-after", "color": "#0f4a86", "strokeWidth": 1.8},
     "encoding": {
      "x": {"field": "m", "type": "quantitative", "axis": {"tickCount": 200, "values": [120,130,140,150,160,170,180,190,200,210,220,230,240,250,260,270,280,290,300,310,320,330,340,350,360,370,380,390,400,410,420,430,440,450,460,470,480,490,500,510,520,530,540,550,560,570,580,590,600,610,620,630,640,650,660,670,680,690,700], "labelExpr": "datum.value % 120 === 0 ? (datum.value < 600 ? '0' : '') + (datum.value / 60) + ':00' : ''", "labelOverlap": false, "title": null, "grid": true, "gridColor": {"condition": {"test": "datum.value % 30 === 0", "value": "#dd9a9a"}, "value": "#bdbdbd"}, "tickOpacity": {"condition": {"test": "datum.value % 60 === 0", "value": 1}, "value": 0}, "tickSize": 3, "labelPadding": 2}},
      "y": {"field": "v", "type": "quantitative", "axis": {"tickCount": 200, "values": [0,20,40,60,80,100,120,140,160,180,200,220,240,260], "labelExpr": "datum.value === 0 ? '0' : (datum.value % 100 === 0 ? datum.value + ' m' : '')", "labelOverlap": false, "title": "Seconds", "titleX": -54, "titleY": 26, "titleAngle": -90, "titleAlign": "center", "titleBaseline": "middle", "grid": true, "gridColor": {"condition": {"test": "datum.value % 100 === 0", "value": "#dd9a9a"}, "value": "#bdbdbd"}, "tickOpacity": {"condition": {"test": "datum.value % 100 === 0", "value": 1}, "value": 0}, "tickSize": 3, "labelPadding": 5}}
     }},
    {"mark": {"type": "rule", "color": "#444", "strokeWidth": 1},
     "encoding": {"x": {"datum": 110, "type": "quantitative"}, "y": {"datum": 274, "type": "quantitative"}, "y2": {"datum": 300.3}}},
    {"mark": {"type": "rule", "color": "#444", "strokeWidth": 1},
     "encoding": {"x": {"datum": 710, "type": "quantitative"}, "x2": {"datum": 713}, "y": {"datum": 0, "type": "quantitative"}}},
    {"mark": {"type": "point", "shape": "triangle-up", "size": 22, "filled": true, "color": "#8b1a1a", "opacity": 1},
     "encoding": {"x": {"datum": 110, "type": "quantitative"}, "y": {"datum": 300.3, "type": "quantitative"}}},
    {"mark": {"type": "point", "shape": "triangle-right", "size": 22, "filled": true, "color": "#8b1a1a", "opacity": 1},
     "encoding": {"x": {"datum": 714, "type": "quantitative"}, "y": {"datum": 0, "type": "quantitative"}}}
   ]
  }
 ]
}
